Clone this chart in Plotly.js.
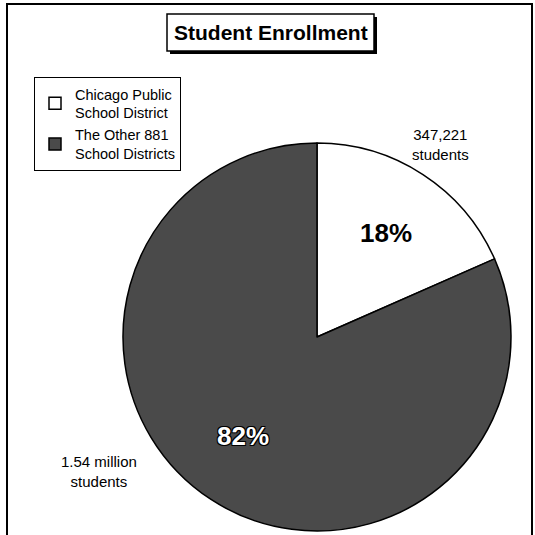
<!DOCTYPE html>
<html>
<head>
<meta charset="utf-8">
<script src="https://cdn.plot.ly/plotly-3.0.1.min.js"></script>
<style>html,body{margin:0;padding:0;background:#fff;}#chart{width:535px;height:535px;}</style>
</head>
<body>
<div id="chart"></div>
<script>
const categories = ["Chicago Public<br>School District", "The Other 881<br>School Districts"];
const students = [347221, 1540000];
const countLabels = ["347,221<br>students", "1.54 million<br>students"];
const percentLabels = ["18%", "82%"];
const sliceColors = ["#ffffff", "#4a4a4a"];

const W = 535, H = 535;
const cx = 317, cy = 337, r = 194;

const trace = {
  type: "pie",
  labels: categories,
  values: students,
  sort: false,
  direction: "clockwise",
  rotation: 0,
  textinfo: "none",
  hoverinfo: "none",
  marker: {colors: sliceColors, line: {color: "#000", width: 1.5}},
  domain: {x: [(cx - r) / W, (cx + r) / W], y: [(H - cy - r) / H, (H - cy + r) / H]}
};

const px = x => x / W, py = y => 1 - y / H;
const ann = (text, x, y, font) => ({text, xref: "paper", yref: "paper", x: px(x), y: py(y),
  xanchor: "center", yanchor: "middle", showarrow: false, font});

const layout = {
  width: W, height: H,
  margin: {l: 0, r: 0, t: 0, b: 0},
  paper_bgcolor: "#fff",
  font: {family: "Liberation Sans, Arial, sans-serif", color: "#000"},
  showlegend: true,
  legend: {
    x: px(34), y: py(77), xanchor: "left", yanchor: "top",
    bordercolor: "#000", borderwidth: 1, bgcolor: "#fff",
    font: {size: 14.5}, itemwidth: 30
  },
  shapes: [
    {type: "rect", xref: "paper", yref: "paper", x0: px(7), x1: px(532), y0: py(4), y1: py(537), line: {color: "#000", width: 2}},
    {type: "rect", xref: "paper", yref: "paper", x0: px(170), x1: px(377), y0: py(17), y1: py(54), fillcolor: "#000", line: {width: 0}, layer: "above"},
    {type: "rect", xref: "paper", yref: "paper", x0: px(167), x1: px(374), y0: py(14), y1: py(51), fillcolor: "#fff", line: {color: "#000", width: 1.5}, layer: "above"}
  ],
  annotations: [
    ann("<b>Student Enrollment</b>", 271, 33, {size: 21}),
    ann(countLabels[0], 440, 145, {size: 15}),
    ann(countLabels[1], 99, 471, {size: 15}),
    ann("<b>" + percentLabels[0] + "</b>", 386, 233, {size: 26}),
    ann("<b>" + percentLabels[1] + "</b>", 243, 436,
      {size: 26, color: "#fff", shadow: "1px 1px 0 #000, -1px -1px 0 #000, 1px -1px 0 #000, -1px 1px 0 #000"})
  ]
};

Plotly.newPlot("chart", [trace], layout, {displayModeBar: false, staticPlot: true});
</script>
</body>
</html>
